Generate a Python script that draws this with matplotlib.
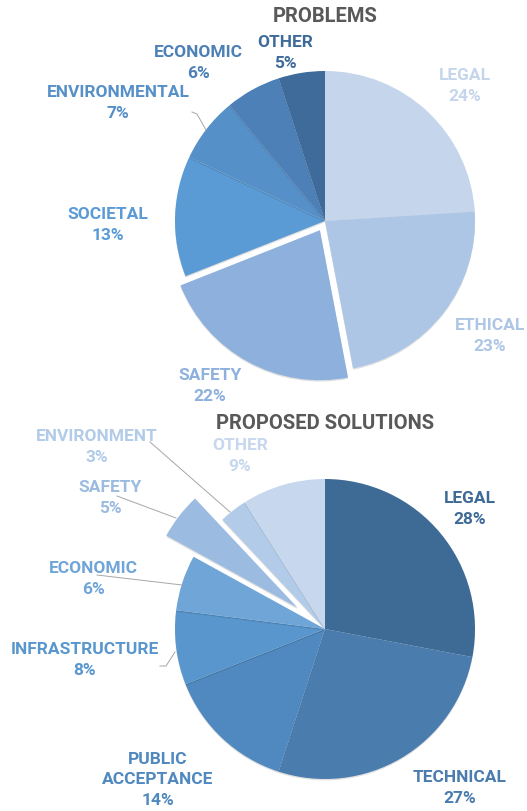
import matplotlib
matplotlib.use("Agg")
import matplotlib.pyplot as plt
import matplotlib.patheffects as pe

# Problems
prob_labels = ["LEGAL", "ETHICAL", "SAFETY", "SOCIETAL", "ENVIRONMENTAL", "ECONOMIC", "OTHER"]
prob_values = [24, 23, 22, 13, 7, 6, 5]
prob_colors = ["#c5d6ec", "#adc6e6", "#8eb0dd", "#5b9bd5", "#5590c8", "#4c80b6", "#3f6b9a"]
prob_explode = [0, 0, 0.07, 0, 0, 0, 0]

# Proposed solutions
sol_labels = ["LEGAL", "TECHNICAL", "PUBLIC\nACCEPTANCE", "INFRASTRUCTURE", "ECONOMIC",
              "SAFETY", "ENVIRONMENT", "OTHER"]
sol_values = [28, 27, 14, 8, 6, 5, 3, 9]
sol_colors = ["#3e6a96", "#4a7cae", "#4f89bf", "#5896cd", "#70a5d8", "#9bbbe0", "#b1cbe8", "#c6d7ee"]
sol_explode = [0, 0, 0, 0, 0, 0.23, 0, 0]

W, H = 527, 812
R = 150
fig = plt.figure(figsize=(W / 100, H / 100), dpi=100)
ax = fig.add_axes([0, 0, 1, 1])

FONT = ["Roboto", "DejaVu Sans"]
shadow = [pe.SimplePatchShadow(offset=(0, -1), shadow_rgbFace="#000000", alpha=0.12), pe.Normal()]


def Y(y):
    return H - y


def draw_pie(values, colors, explode, center, title, ty):
    # explode in pie() is in data units, so scale it by the radius
    wedges, _ = ax.pie(values, colors=colors, explode=[e * R for e in explode], startangle=90,
                       counterclock=False, radius=R, center=center,
                       wedgeprops=dict(linewidth=0), frame=True)
    for w in wedges:
        w.set_path_effects(shadow)
    ax.text(center[0], Y(ty), title, ha="center", va="center", fontsize=14.5,
            fontweight="bold", color="#595959", family=FONT)


draw_pie(prob_values, prob_colors, prob_explode, (325, Y(222)), "PROBLEMS", 17)
draw_pie(sol_values, sol_colors, sol_explode, (325, Y(630)), "PROPOSED SOLUTIONS", 424)
ax.set_xlim(0, W)
ax.set_ylim(0, H)
ax.set_aspect("equal")
ax.axis("off")

# label positions (pixels) for the two pies
prob_pos = [(465, 86), (490, 336), (210, 386), (108, 225), (118, 103), (198, 63), (285, 53)]
sol_pos = [(470, 509), (460, 788), (158, 780), (85, 660), (93, 579), (110, 498), (97, 447), (240, 456)]


def put_labels(labels, values, colors, pos):
    for lab, v, c, (x, y) in zip(labels, values, colors, pos):
        ax.text(x, Y(y), f"{lab}\n{v}%", ha="center", va="center", fontsize=12.5,
                fontweight="bold", color=c, family=FONT, linespacing=1.45)


put_labels(prob_labels, prob_values, prob_colors, prob_pos)
put_labels(sol_labels, sol_values, sol_colors, sol_pos)

# leader lines
leaders = [
    [(192, 113), (197, 115), (206, 131)],
    [(150, 443), (230, 513)],
    [(117, 497), (176, 519)],
    [(97, 576), (182, 586)],
    [(160, 667), (166, 667), (175, 653)],
]
for pts in leaders:
    ax.plot([p[0] for p in pts], [Y(p[1]) for p in pts], color="#a6a6a6", lw=0.7)

fig.savefig("out.png", dpi=100)
